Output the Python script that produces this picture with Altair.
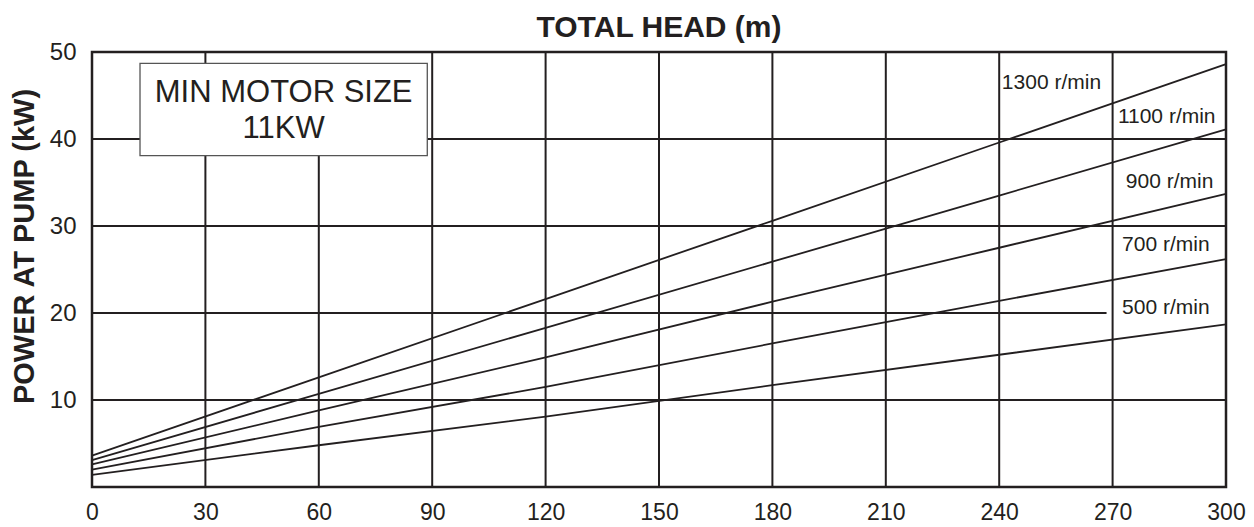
import altair as alt
import pandas as pd

# ---- data ----
heads = [0, 60, 120, 180, 240, 300]
speeds = ["1300 r/min", "1100 r/min", "900 r/min", "700 r/min", "500 r/min"]
power_1300 = [3.6, 12.6, 21.6, 30.6, 39.6, 48.6]
power_1100 = [3.1, 10.7, 18.3, 25.9, 33.5, 41.1]
power_900 = [2.6, 8.8, 14.9, 21.3, 27.5, 33.7]
power_700 = [2.0, 6.9, 11.5, 16.5, 21.4, 26.2]
power_500 = [1.4, 4.8, 8.1, 11.7, 15.2, 18.7]

x_ticks = [0, 30, 60, 90, 120, 150, 180, 210, 240, 270, 300]
y_ticks = [10, 20, 30, 40, 50]

# grid lines (as drawn in the reference)
hgrid_y = [10, 20, 30, 40]
hgrid_end = [300, 268.4, 300, 300]
vgrid_x = [30, 60, 90, 120, 150, 180, 210, 240, 270]
vgrid_top = [50, 44, 50, 50, 50, 50, 50, 50, 50]

# curve labels
label_x = [240.7, 271.4, 273.5, 272.5, 272.5]
label_y = [46.4, 42.5, 35.1, 27.8, 20.6]

# note box
box_x = [12.7, 88.7]
box_y = [38.1, 48.7]
note_lines = ["MIN MOTOR SIZE", "11KW"]
note_x = [50.7, 50.7]
note_y = [44.3, 40.1]

INK = "#231f20"
FONT = "Liberation Sans"

series = [power_1300, power_1100, power_900, power_700, power_500]
rows = []
for name, vals in zip(speeds, series):
    for h, p in zip(heads, vals):
        rows.append({"speed": name, "head": h, "power": p})
curves_df = pd.DataFrame(rows)

hgrid_df = pd.DataFrame({"y": hgrid_y, "x0": [0] * len(hgrid_y), "x1": hgrid_end})
vgrid_df = pd.DataFrame({"x": vgrid_x, "y0": [0] * len(vgrid_x), "y1": vgrid_top})
labels_df = pd.DataFrame({"speed": speeds, "x": label_x, "y": label_y})
box_df = pd.DataFrame({"x0": [box_x[0]], "x1": [box_x[1]], "y0": [box_y[0]], "y1": [box_y[1]]})
note_df = pd.DataFrame({"t": note_lines, "x": note_x, "y": note_y})

xs = alt.Scale(domain=[0, 300], nice=False, zero=False)
ys = alt.Scale(domain=[0, 50], nice=False, zero=False)

x_axis = alt.Axis(
    values=x_ticks, title=None, grid=False, domain=False, ticks=False,
    labelFontSize=23, labelPadding=14, labelColor=INK, labelFont=FONT,
    labelBaseline="top", labelFlush=False, labelOverlap=False)
y_axis = alt.Axis(
    values=y_ticks, title="POWER AT PUMP (kW)", grid=False, domain=False, ticks=False,
    labelFontSize=24, labelPadding=16, labelColor=INK, labelFont=FONT,
    labelFlush=False, labelOverlap=False,
    titleFontSize=29, titleFont=FONT, titleFontWeight="bold", titleColor=INK,
    titleAngle=270, titleX=-59, titleY=194, titleAlign="center",
    titleBaseline="alphabetic")


def X(field):
    return alt.X(field, scale=xs, axis=x_axis)


def Y(field):
    return alt.Y(field, scale=ys, axis=y_axis)


hgrid = alt.Chart(hgrid_df).mark_rule(color=INK, strokeWidth=2).encode(
    x=X("x0:Q"), x2="x1:Q", y=Y("y:Q"),
)
vgrid = alt.Chart(vgrid_df).mark_rule(color=INK, strokeWidth=2).encode(
    x=X("x:Q"), y=Y("y0:Q"), y2="y1:Q",
)
curves = alt.Chart(curves_df).mark_line(color=INK, strokeWidth=1.8).encode(
    x=X("head:Q"), y=Y("power:Q"), detail="speed:N",
)
box = alt.Chart(box_df).mark_rect(fill="white", stroke="#555555", strokeWidth=1.3).encode(
    x=X("x0:Q"), x2="x1:Q", y=Y("y0:Q"), y2="y1:Q",
)
note = alt.Chart(note_df).mark_text(
    fontSize=31, font=FONT, color=INK, align="center", baseline="alphabetic"
).encode(x=X("x:Q"), y=Y("y:Q"), text="t:N")
labels = alt.Chart(labels_df).mark_text(
    fontSize=21, font=FONT, color=INK, align="left", baseline="middle"
).encode(x=X("x:Q"), y=Y("y:Q"), text="speed:N")

chart = alt.layer(hgrid, vgrid, curves, box, note, labels).properties(
    width=1134,
    height=435,
    autosize="none",
    padding={"left": 84, "top": 44, "right": 20, "bottom": 38},
    title=alt.TitleParams(
        "TOTAL HEAD (m)", fontSize=30, fontWeight="bold", font=FONT, color=INK,
        anchor="middle", offset=-3),
).configure_view(stroke=INK, strokeWidth=2.5)

chart.save("out.html", embed_options={"renderer": "svg", "actions": False})
